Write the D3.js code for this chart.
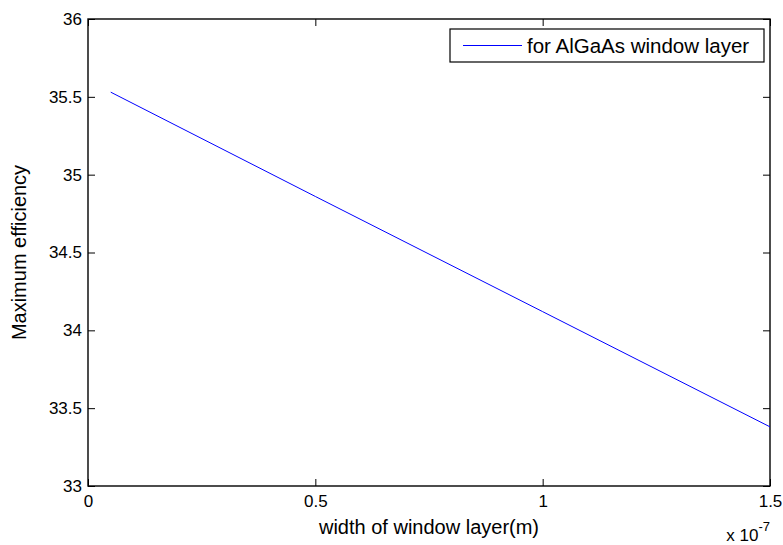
<!DOCTYPE html>
<html><head><meta charset="utf-8">
<script src="https://cdn.jsdelivr.net/npm/d3@7"></script>
<style>
html,body{margin:0;padding:0;background:#fff;}
text{font-family:"Liberation Sans",Arial,sans-serif;}
</style></head>
<body>
<svg id="chart" width="783" height="545"></svg>
<script>
const widthsX = [0.05, 0.5, 1.0, 1.5];          // window layer width (x 1e-7 m)
const efficiency = [35.53, 34.86, 34.12, 33.38]; // maximum efficiency
const xTicks = [0, 0.5, 1, 1.5];
const xTickLabels = ["0", "0.5", "1", "1.5"];
const yTicks = [33, 33.5, 34, 34.5, 35, 35.5, 36];
const yTickLabels = ["33", "33.5", "34", "34.5", "35", "35.5", "36"];
const seriesName = "for AlGaAs window layer";
const xTitle = "width of window layer(m)";
const yTitle = "Maximum efficiency";

const svg = d3.select("#chart");
const L = 88, R = 770, T = 19, B = 486;
const fsTick = 17, fs = 20;
const x = d3.scaleLinear().domain([0, 1.5]).range([L, R]);
const y = d3.scaleLinear().domain([33, 36]).range([B, T]);
const tl = 7;
const font = "'Liberation Sans',Arial,sans-serif";

const g = svg.append("g");
const ax = d3.axisBottom(x).tickValues(xTicks).tickFormat((d,i)=>xTickLabels[i]).tickSizeInner(-tl).tickSizeOuter(0).tickPadding(9);
const gb = g.append("g").attr("transform",`translate(0,${B})`).call(ax);
const at = d3.axisTop(x).tickValues(xTicks).tickFormat("").tickSizeInner(-tl).tickSizeOuter(0);
const gt = g.append("g").attr("transform",`translate(0,${T})`).call(at);
const ay = d3.axisLeft(y).tickValues(yTicks).tickFormat((d,i)=>yTickLabels[i]).tickSizeInner(-tl).tickSizeOuter(0).tickPadding(6);
const gl = g.append("g").attr("transform",`translate(${L},0)`).call(ay);
const ar = d3.axisRight(y).tickValues(yTicks).tickFormat("").tickSizeInner(-tl).tickSizeOuter(0);
const gr = g.append("g").attr("transform",`translate(${R},0)`).call(ar);
[gb,gt,gl,gr].forEach(a=>{
  a.selectAll(".domain").remove();
  a.selectAll("line").attr("stroke","#000").attr("stroke-width",1);
  a.selectAll("text").attr("fill","#000").style("font-size",fsTick+"px").style("font-family",font);
});
g.append("rect").attr("x",L).attr("y",T).attr("width",R-L).attr("height",B-T)
  .attr("fill","none").attr("stroke","#000").attr("stroke-width",1.4);

// exponent label
const ex = svg.append("text").attr("x",R).attr("y",541).attr("text-anchor","end").style("font-size",fsTick+"px");
ex.append("tspan").text("x 10");
ex.append("tspan").attr("dy",-10).style("font-size","13px").text("-7");

// line
const line = d3.line().x((d,i)=>x(widthsX[i])).y(d=>y(d));
svg.append("path").datum(efficiency).attr("d",line).attr("fill","none").attr("stroke","#0000ff").attr("stroke-width",1);

// titles
svg.append("text").attr("x",(L+R)/2).attr("y",534).attr("text-anchor","middle").style("font-size",fs+"px").text(xTitle);
svg.append("text").attr("transform",`translate(26,${(T+B)/2}) rotate(-90)`).attr("text-anchor","middle").style("font-size",fs+"px").text(yTitle);

// legend
const lx0 = 450, lx1 = 764, ly0 = 29, ly1 = 62;
svg.append("rect").attr("x",lx0).attr("y",ly0).attr("width",lx1-lx0).attr("height",ly1-ly0).attr("fill","#fff").attr("stroke","#000").attr("stroke-width",1.2);
svg.append("line").attr("x1",463).attr("x2",522).attr("y1",(ly0+ly1)/2).attr("y2",(ly0+ly1)/2).attr("stroke","#0000ff").attr("stroke-width",1);
svg.append("text").attr("x",527).attr("y",(ly0+ly1)/2).attr("dy","0.35em").style("font-size","20.5px").text(seriesName);
</script>
</body></html>
